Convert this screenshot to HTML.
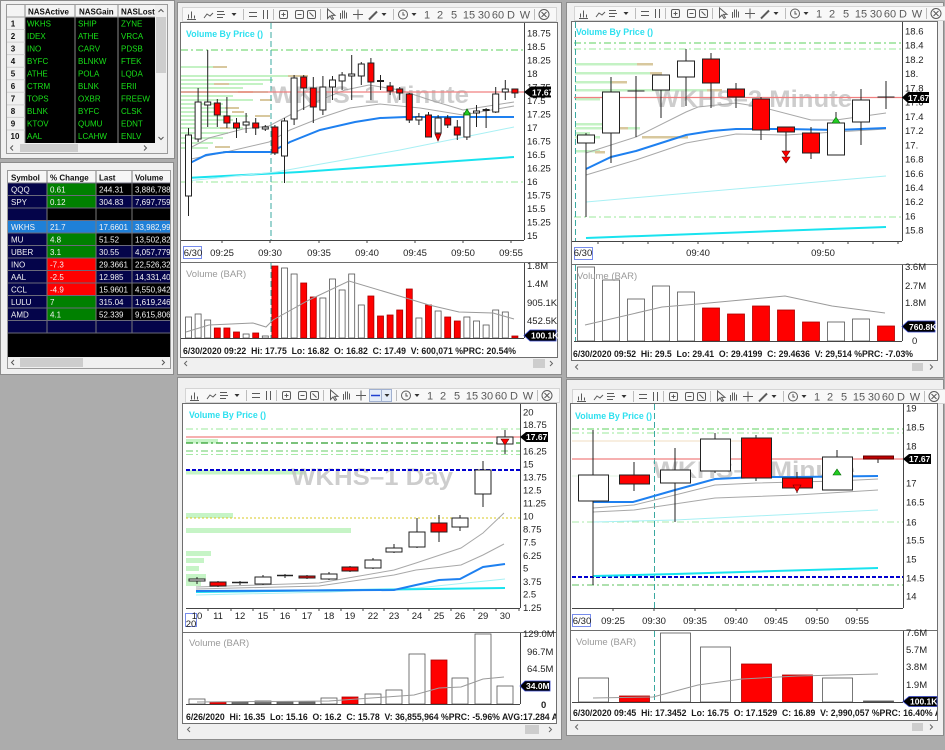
<!DOCTYPE html>
<html><head><meta charset="utf-8"><title>Charts</title>
<style>
html,body{margin:0;padding:0;background:#acacac;}
body{width:945px;height:750px;overflow:hidden;}
svg{display:block;}
text{font-family:"Liberation Sans",Arial,sans-serif;}
.tb text{font-size:11px;fill:#5a5a5a;text-anchor:middle;}
.ax{font-size:9.5px;fill:#222;}
.tm{font-size:9.5px;fill:#222;text-anchor:middle;}
.st{font-size:9.5px;font-weight:bold;fill:#1a1a1a;white-space:pre;}
.vbp{font-size:9px;font-weight:bold;fill:#2ee0ef;}
.vb{font-size:9.5px;fill:#9a9a9a;}
.wm{font-size:24px;font-weight:bold;fill:#bdbdbd;opacity:.75;}
.pb{font-size:8.5px;font-weight:bold;fill:#fff;}
.g{font-size:8px;fill:#18e018;}
.w{font-size:8px;fill:#f2f2f2;}
.h{font-size:8px;font-weight:bold;fill:#111;}
</style></head>
<body>
<svg width="945" height="750" viewBox="0 0 945 750" xmlns="http://www.w3.org/2000/svg">
<defs>
<clipPath id="cT1"><rect x="7" y="5" width="148" height="138"/></clipPath>
<clipPath id="cT2"><rect x="8" y="171" width="162" height="186"/></clipPath>
<clipPath id="cA"><rect x="181" y="23" width="343" height="217"/></clipPath>
<clipPath id="cB"><rect x="572" y="22" width="330" height="219"/></clipPath>
<clipPath id="cC"><rect x="183" y="404" width="337" height="204"/></clipPath>
<clipPath id="cD"><rect x="571" y="404" width="332" height="204"/></clipPath>
<clipPath id="cCs"><rect x="182" y="705" width="374" height="18"/></clipPath>
<clipPath id="cDs"><rect x="571" y="702" width="366" height="18"/></clipPath>
</defs>
<rect x="0" y="0" width="945" height="750" fill="#acacac"/>

<!-- ================= TABLE 1 ================= -->
<rect x="0.5" y="0.5" width="174" height="158" fill="#f0f0f0" stroke="#8c8c8c"/>
<rect x="6.5" y="4.5" width="161" height="149" fill="#f0f0f0" stroke="#9a9a9a"/>
<g clip-path="url(#cT1)">
<rect x="7" y="5" width="148" height="12" fill="#f4f4f4"/>
<rect x="25" y="17" width="130" height="126" fill="#000"/>
<path d="M25 5V143 M75 5V143 M118 5V143" stroke="#8a8a8a"/>
<path d="M7 17H155" stroke="#a0a0a0"/>
<path d="M7 29.55H25M7 42.1H25M7 54.65H25M7 67.2H25M7 79.75H25M7 92.3H25M7 104.85H25M7 117.4H25M7 129.95H25" stroke="#d0d0d0"/>
<text class="h" x="28" y="14.3">NASActive</text>
<text class="h" x="79" y="14.3">NASGain</text>
<text class="h" x="121" y="14.3">NASLost</text>
<g class="h" text-anchor="middle">
<text x="13" y="26.3">1</text><text x="13" y="38.8">2</text><text x="13" y="51.4">3</text><text x="13" y="63.9">4</text><text x="13" y="76.5">5</text><text x="13" y="89">6</text><text x="13" y="101.6">7</text><text x="13" y="114.1">8</text><text x="13" y="126.7">9</text><text x="15" y="139.2">10</text>
</g>
<g class="g">
<text x="27" y="26.3">WKHS</text><text x="78" y="26.3">SHIP</text><text x="121" y="26.3">ZYNE</text>
<text x="27" y="38.8">IDEX</text><text x="78" y="38.8">ATHE</text><text x="121" y="38.8">VRCA</text>
<text x="27" y="51.4">INO</text><text x="78" y="51.4">CARV</text><text x="121" y="51.4">PDSB</text>
<text x="27" y="63.9">BYFC</text><text x="78" y="63.9">BLNKW</text><text x="121" y="63.9">FTEK</text>
<text x="27" y="76.5">ATHE</text><text x="78" y="76.5">POLA</text><text x="121" y="76.5">LQDA</text>
<text x="27" y="89">CTRM</text><text x="78" y="89">BLNK</text><text x="121" y="89">ERII</text>
<text x="27" y="101.6">TOPS</text><text x="78" y="101.6">OXBR</text><text x="121" y="101.6">FREEW</text>
<text x="27" y="114.1">BLNK</text><text x="78" y="114.1">BYFC</text><text x="121" y="114.1">CLSK</text>
<text x="27" y="126.7">KTOV</text><text x="78" y="126.7">QUMU</text><text x="121" y="126.7">EDNT</text>
<text x="27" y="139.2">AAL</text><text x="78" y="139.2">LCAHW</text><text x="121" y="139.2">ENLV</text>
</g>
</g>
<rect x="155" y="5" width="12" height="138" fill="#f0f0f0"/>
<rect x="156" y="17" width="10" height="56" fill="#cdcdcd"/>
<path d="M158.5 12l2.5-2.5 2.5 2.5M158.5 137l2.5 2.5 2.5-2.5" stroke="#555" fill="none"/>
<rect x="7" y="143" width="160" height="10" fill="#f0f0f0"/>
<rect x="20" y="144" width="58" height="8" fill="#cdcdcd"/>
<path d="M13 145.5l-2.5 2.5 2.5 2.5M144 145.5l2.5 2.5-2.5 2.5" stroke="#555" fill="none"/>

<!-- ================= TABLE 2 ================= -->
<rect x="0.5" y="162.5" width="173" height="212" fill="#f0f0f0" stroke="#8c8c8c"/>
<rect x="7.5" y="170.5" width="163" height="198" fill="#f0f0f0" stroke="#9a9a9a"/>
<g clip-path="url(#cT2)">
<rect x="8" y="171" width="162" height="12" fill="#f6f6f6"/>
<rect x="8" y="183" width="162" height="174" fill="#000"/>
<!-- row fills -->
<g>
<rect x="8" y="183" width="39" height="12.5" fill="#04044a"/><rect x="47" y="183" width="49" height="12.5" fill="#008000"/>
<rect x="8" y="195.5" width="39" height="12.5" fill="#04044a"/><rect x="47" y="195.5" width="49" height="12.5" fill="#008000"/><rect x="96" y="195.5" width="74" height="12.5" fill="#04044a"/>
<rect x="8" y="208" width="39" height="12.5" fill="#04044a"/>
<rect x="8" y="220.5" width="162" height="12.5" fill="#1f80d8"/>
<rect x="8" y="233" width="39" height="12.5" fill="#04044a"/><rect x="47" y="233" width="49" height="12.5" fill="#008000"/>
<rect x="8" y="245.5" width="39" height="12.5" fill="#04044a"/><rect x="47" y="245.5" width="49" height="12.5" fill="#008000"/><rect x="96" y="245.5" width="74" height="12.5" fill="#04044a"/>
<rect x="8" y="258" width="39" height="12.5" fill="#04044a"/><rect x="47" y="258" width="49" height="12.5" fill="#ff0000"/>
<rect x="8" y="270.5" width="39" height="12.5" fill="#04044a"/><rect x="47" y="270.5" width="49" height="12.5" fill="#ff0000"/><rect x="96" y="270.5" width="74" height="12.5" fill="#04044a"/>
<rect x="8" y="283" width="39" height="12.5" fill="#04044a"/><rect x="47" y="283" width="49" height="12.5" fill="#ff0000"/>
<rect x="8" y="295.5" width="39" height="12.5" fill="#04044a"/><rect x="47" y="295.5" width="49" height="12.5" fill="#008000"/><rect x="96" y="295.5" width="74" height="12.5" fill="#04044a"/>
<rect x="8" y="308" width="39" height="12.5" fill="#04044a"/><rect x="47" y="308" width="49" height="12.5" fill="#008000"/>
<rect x="8" y="320.5" width="162" height="12.5" fill="#04044a"/>
</g>
<path d="M47 171V333M96 171V333M132 171V333" stroke="#7a7a7a"/>
<path d="M8 183H170M8 195.5H170M8 208H170M8 220.5H170M8 233H170M8 245.5H170M8 258H170M8 270.5H170M8 283H170M8 295.5H170M8 308H170M8 320.5H170M8 333H170" stroke="#6a6a7a"/>
<text class="h" x="11" y="180.5" font-size="8.5">Symbol</text>
<text class="h" x="50" y="180.5" font-size="8.5">% Change</text>
<text class="h" x="99" y="180.5" font-size="8.5">Last</text>
<text class="h" x="135" y="180.5" font-size="8.5">Volume</text>
<g class="w">
<text x="11" y="192.3">QQQ</text><text x="50" y="192.3">0.61</text><text x="99" y="192.3">244.31</text><text x="135" y="192.3">3,886,788</text>
<text x="11" y="204.8">SPY</text><text x="50" y="204.8">0.12</text><text x="99" y="204.8">304.83</text><text x="135" y="204.8">7,697,759</text>
<text x="11" y="229.8">WKHS</text><text x="50" y="229.8">21.7</text><text x="99" y="229.8">17.6601</text><text x="135" y="229.8">33,982,99</text>
<text x="11" y="242.3">MU</text><text x="50" y="242.3">4.8</text><text x="99" y="242.3">51.52</text><text x="135" y="242.3">13,502,82</text>
<text x="11" y="254.8">UBER</text><text x="50" y="254.8">3.1</text><text x="99" y="254.8">30.55</text><text x="135" y="254.8">4,057,779</text>
<text x="11" y="267.3">INO</text><text x="50" y="267.3">-7.3</text><text x="99" y="267.3">29.3661</text><text x="135" y="267.3">22,526,32</text>
<text x="11" y="279.8">AAL</text><text x="50" y="279.8">-2.5</text><text x="99" y="279.8">12.985</text><text x="135" y="279.8">14,331,40</text>
<text x="11" y="292.3">CCL</text><text x="50" y="292.3">-4.9</text><text x="99" y="292.3">15.9601</text><text x="135" y="292.3">4,550,942</text>
<text x="11" y="304.8">LULU</text><text x="50" y="304.8">7</text><text x="99" y="304.8">315.04</text><text x="135" y="304.8">1,619,246</text>
<text x="11" y="317.3">AMD</text><text x="50" y="317.3">4.1</text><text x="99" y="317.3">52.339</text><text x="135" y="317.3">9,615,806</text>
</g>
</g>
<rect x="8" y="357" width="162" height="11" fill="#f0f0f0"/>
<rect x="20" y="358" width="63" height="9" fill="#cdcdcd"/>
<path d="M14 360l-2.5 2.5 2.5 2.5M162 360l2.5 2.5-2.5 2.5" stroke="#555" fill="none"/>

<!-- ================= TOOLBAR (A base) ================= -->
<g id="tbA" class="tb">
<rect x="182.5" y="7.5" width="374" height="14" fill="#f8f8f8" stroke="#d4d4d4"/>
<g fill="none" stroke="#5a5a5a">
<path d="M187 19.5h9M188.5 18.5v-4M191.5 18.5v-7M194.5 18.5v-3"/>
<path d="M204 18l3-4 3 2 3-3"/>
<path d="M217 11.5h7M217 14.5h8M217 17.5h6"/>
<path d="M249 12.5h8M249 16.5h8"/>
<path d="M263.5 10v9M267.5 10v9"/>
<rect x="279.5" y="10.5" width="8" height="8" rx="1.5"/>
<rect x="295.5" y="10.5" width="8" height="8" rx="1.5"/>
<rect x="307.5" y="10.5" width="8" height="8" rx="1.5"/>
<path d="M281.5 14.5h4M283.5 12.5v4M297.5 14.5h4M309.5 12.5l4 4"/>
<path d="M327.5 9v9.5l2.5-2.5 2 3.5 1.5-.8-2-3.3h3.5z"/>
<path d="M340.5 19v-6M342.5 18.5v-8M344.5 18.5v-8M346.5 18.5v-6"/>
<path d="M353 14.5h10M358 9.5v10"/>
<path d="M369 19.5l8-8" stroke-width="2"/>
<circle cx="403" cy="14.5" r="4.5"/><path d="M403 12v3h2"/>
<circle cx="544" cy="14.5" r="5"/><path d="M541.5 12l5 5M546.5 12l-5 5"/>
</g>
<g fill="#333"><path d="M231.5 13h5l-2.5 3zM381.5 13h5l-2.5 3zM411.5 13h5l-2.5 3z"/></g>
<path d="M243.5 9v11M273.5 9v11M320.5 9v11M393.5 9v11M534.5 9v11" stroke="#bcbcbc"/>
<text x="427" y="18.5">1</text><text x="440" y="18.5">2</text><text x="454" y="18.5">5</text><text x="469" y="18.5">15</text><text x="484" y="18.5">30</text><text x="498" y="18.5">60</text><text x="511" y="18.5">D</text><text x="525" y="18.5">W</text>
</g>

<!-- ================= WINDOW A (1 Minute) ================= -->
<rect x="177.5" y="2.5" width="384" height="372" fill="#f0f0f0" stroke="#8c8c8c"/>
<g class="tb">
<rect x="182.5" y="7.5" width="374" height="14" fill="#f8f8f8" stroke="#d4d4d4"/>
<g fill="none" stroke="#5a5a5a">
<path d="M187 19.5h9M188.5 18.5v-4M191.5 18.5v-7M194.5 18.5v-3"/>
<path d="M204 18l3-4 3 2 3-3"/>
<path d="M217 11.5h7M217 14.5h8M217 17.5h6"/>
<path d="M249 12.5h8M249 16.5h8"/>
<path d="M263.5 10v9M267.5 10v9"/>
<rect x="279.5" y="10.5" width="8" height="8" rx="1.5"/>
<rect x="295.5" y="10.5" width="8" height="8" rx="1.5"/>
<rect x="307.5" y="10.5" width="8" height="8" rx="1.5"/>
<path d="M281.5 14.5h4M283.5 12.5v4M297.5 14.5h4M309.5 12.5l4 4"/>
<path d="M327.5 9v9.5l2.5-2.5 2 3.5 1.5-.8-2-3.3h3.5z"/>
<path d="M340.5 19v-6M342.5 18.5v-8M344.5 18.5v-8M346.5 18.5v-6"/>
<path d="M353 14.5h10M358 9.5v10"/>
<path d="M369 19.5l8-8" stroke-width="2"/>
<circle cx="403" cy="14.5" r="4.5"/><path d="M403 12v3h2"/>
<circle cx="544" cy="14.5" r="5"/><path d="M541.5 12l5 5M546.5 12l-5 5"/>
</g>
<g fill="#333"><path d="M231.5 13h5l-2.5 3zM381.5 13h5l-2.5 3zM411.5 13h5l-2.5 3z"/></g>
<path d="M243.5 9v11M273.5 9v11M320.5 9v11M393.5 9v11M534.5 9v11" stroke="#bcbcbc"/>
<text x="427" y="18.5">1</text><text x="440" y="18.5">2</text><text x="454" y="18.5">5</text><text x="469" y="18.5">15</text><text x="484" y="18.5">30</text><text x="498" y="18.5">60</text><text x="511" y="18.5">D</text><text x="525" y="18.5">W</text>
</g>
<rect x="180.5" y="22.5" width="377" height="335" fill="#fff" stroke="#6e6e6e"/>
<g clip-path="url(#cA)">
<g fill="#c4f2c4">
<rect x="181" y="66" width="32" height="2"/><rect x="181" y="75" width="107" height="2"/><rect x="181" y="79" width="92" height="2"/><rect x="181" y="83" width="82" height="2"/><rect x="181" y="87" width="62" height="2"/><rect x="181" y="91" width="87" height="2"/><rect x="181" y="95" width="52" height="2"/><rect x="181" y="99" width="72" height="2"/><rect x="181" y="103" width="42" height="2"/><rect x="181" y="107" width="57" height="2"/><rect x="181" y="111" width="47" height="2"/><rect x="181" y="115" width="67" height="2"/><rect x="181" y="119" width="52" height="2"/><rect x="181" y="123" width="37" height="2"/><rect x="181" y="127" width="62" height="2"/><rect x="181" y="132" width="47" height="2"/><rect x="181" y="137" width="42" height="2"/><rect x="181" y="142" width="32" height="2"/><rect x="181" y="147" width="27" height="2"/>
</g>
<g fill="#d8c89e">
<rect x="213" y="66" width="14" height="2"/><rect x="288" y="75" width="20" height="2"/><rect x="214" y="83" width="15" height="2"/><rect x="238" y="91" width="15" height="2"/><rect x="260" y="99" width="12" height="2"/><rect x="225" y="107" width="14" height="2"/><rect x="232" y="111" width="12" height="2"/><rect x="255" y="115" width="15" height="2"/><rect x="220" y="127" width="10" height="2"/><rect x="215" y="146" width="15" height="2"/><rect x="223" y="151" width="53" height="2"/>
</g>
<text class="wm" x="271" y="103" textLength="198" lengthAdjust="spacingAndGlyphs">WKHS–1 Minute</text>
<path d="M181 50H524" stroke="#5cd25c" stroke-dasharray="7 3 2 3"/>
<path d="M181 182H524" stroke="#9be89b" stroke-dasharray="7 3 2 3"/>
<path d="M271 23V240" stroke="#3aa8a0" stroke-dasharray="6 3"/>
<polyline points="186,178 300,172 400,165 514,157" fill="none" stroke="#19e3ef" stroke-width="2"/>
<polyline points="186,181 276,172 400,150 514,127" fill="none" stroke="#a8f0f4"/>
<polyline points="186,150 209,138 243,129 269,126 290,115 320,100 345,90 369,85 400,90 430,100 463,110 514,102" fill="none" stroke="#a8a8a8"/>
<polyline points="186,160 226,152 269,142 290,130 320,118 350,108 380,104 420,108 463,115 514,106" fill="none" stroke="#a8a8a8"/>
<polyline points="186,165 206,155 226,152 271,152 290,142 320,130 355,122 380,118 406,117 514,117" fill="none" stroke="#1e80f0" stroke-width="2"/>
<path d="M181 92H524" stroke="#f08080" stroke-width="1.2"/>
<g stroke="#222" stroke-width="1">
<path d="M188.5 128V216M198.1 88V142M207.7 50V127M217.3 99V127M226.9 97V128M236.5 118V138M246.1 113V133M255.7 118V135M265.3 125V131M274.9 125V155M284.5 118V183M294.1 75V125M303.7 75V110M313.3 77V123M322.9 76V115M332.5 76V100M342.1 72V90M351.7 55V100M361.3 62V85M370.9 58V100M380.5 75V90M390.1 82V95M399.7 87V100M409.3 93V123M418.9 113V125M428.5 112V137M438.1 115V135M447.7 115V128M457.3 120V140M466.9 110V140M476.5 105V127M486.1 108V128M495.7 87V113M505.3 80V100M514.9 89V98"/>
<g fill="#fff">
<rect x="185.5" y="135" width="6" height="61"/><rect x="195.1" y="102" width="6" height="37"/><rect x="204.7" y="102" width="6" height="3"/><rect x="243.1" y="122" width="6" height="3"/><rect x="262.3" y="127" width="6" height="2"/><rect x="281.5" y="121" width="6" height="35"/><rect x="291.1" y="78" width="6" height="41"/><rect x="319.9" y="87" width="6" height="23"/><rect x="329.5" y="80" width="6" height="7"/><rect x="339.1" y="75" width="6" height="6"/><rect x="348.7" y="74" width="6" height="2"/><rect x="358.3" y="64" width="6" height="12"/><rect x="377.5" y="80.5" width="6" height="1"/><rect x="415.9" y="117" width="6" height="3"/><rect x="435.1" y="118" width="6" height="15"/><rect x="463.9" y="113" width="6" height="24"/><rect x="473.5" y="111" width="6" height="2"/><rect x="483.1" y="109.5" width="6" height="1"/><rect x="492.7" y="94" width="6" height="18"/><rect x="502.3" y="89" width="6" height="3"/>
</g>
<g fill="#f00">
<rect x="214.3" y="103" width="6" height="12"/><rect x="223.9" y="116" width="6" height="7"/><rect x="233.5" y="123" width="6" height="5"/><rect x="252.7" y="123" width="6" height="5"/><rect x="271.9" y="127" width="6" height="26"/><rect x="300.7" y="77" width="6" height="11"/><rect x="310.3" y="88" width="6" height="19"/><rect x="367.9" y="63" width="6" height="19"/><rect x="387.1" y="86" width="6" height="5"/><rect x="396.7" y="89" width="6" height="4"/><rect x="406.3" y="94" width="6" height="26"/><rect x="425.5" y="115" width="6" height="22"/><rect x="444.7" y="118" width="6" height="7"/><rect x="454.3" y="127" width="6" height="8"/><rect x="511.9" y="89" width="6" height="4"/>
</g>
</g>
<polygon points="435,134 441,134 438,141" fill="#f00" stroke="#600" stroke-width=".7"/>
<polygon points="463.5,115 470.5,115 467,109" fill="#22cc22" stroke="#060" stroke-width=".7"/>
</g>
<text class="vbp" x="186" y="37" textLength="77" lengthAdjust="spacingAndGlyphs">Volume By Price ()</text>
<!-- A axes -->
<path d="M524.5 23V240M181 240.5H524" stroke="#444"/>
<path d="M222 240v3M270 240v3M319 240v3M367 240v3M415 240v3M463 240v3M511 240v3" stroke="#444"/>
<g class="ax">
<text x="527" y="36.5">18.75</text><text x="527" y="50">18.5</text><text x="527" y="63.5">18.25</text><text x="527" y="77">18</text><text x="527" y="90.5">17.75</text><text x="527" y="104">17.5</text><text x="527" y="117.5">17.25</text><text x="527" y="131">17</text><text x="527" y="144.5">16.75</text><text x="527" y="158">16.5</text><text x="527" y="171.5">16.25</text><text x="527" y="185">16</text><text x="527" y="198.5">15.75</text><text x="527" y="212">15.5</text><text x="527" y="225.5">15.25</text><text x="527" y="239">15</text>
</g>
<polygon points="524,92 531,86.5 551,86.5 551,97.5 531,97.5" fill="#000"/>
<text class="pb" x="532" y="95.3">17.67</text>
<rect x="183.5" y="246.5" width="18" height="12" fill="none" stroke="#5570e8" stroke-width=".8"/>
<text class="tm" x="193" y="256">6/30</text><text class="tm" x="222" y="256">09:25</text><text class="tm" x="270" y="256">09:30</text><text class="tm" x="319" y="256">09:35</text><text class="tm" x="367" y="256">09:40</text><text class="tm" x="415" y="256">09:45</text><text class="tm" x="463" y="256">09:50</text><text class="tm" x="511" y="256">09:55</text>
<path d="M181 262.5H557" stroke="#6e6e6e"/>
<!-- A volume -->
<path d="M271 263V338" stroke="#3aa8a0" stroke-dasharray="6 3"/>
<text class="vb" x="186" y="277">Volume (BAR)</text>
<g stroke="#555" stroke-width=".8">
<g fill="#fff">
<rect x="185.5" y="317" width="6" height="21"/><rect x="195.1" y="314" width="6" height="24"/><rect x="204.7" y="320" width="6" height="18"/><rect x="243.1" y="334" width="6" height="4"/><rect x="262.3" y="336" width="6" height="2"/><rect x="281.5" y="268" width="6" height="70"/><rect x="291.1" y="274" width="6" height="64"/><rect x="319.9" y="298" width="6" height="40"/><rect x="329.5" y="279" width="6" height="59"/><rect x="339.1" y="290" width="6" height="48"/><rect x="348.7" y="274" width="6" height="64"/><rect x="358.3" y="305" width="6" height="33"/><rect x="415.9" y="318" width="6" height="20"/><rect x="435.1" y="311" width="6" height="27"/><rect x="463.9" y="317" width="6" height="21"/><rect x="473.5" y="321" width="6" height="17"/><rect x="483.1" y="325" width="6" height="13"/><rect x="492.7" y="310" width="6" height="28"/><rect x="502.3" y="312" width="6" height="26"/>
</g>
<g fill="#f00" stroke="#a00">
<rect x="214.3" y="328" width="6" height="10"/><rect x="223.9" y="328" width="6" height="10"/><rect x="233.5" y="332" width="6" height="6"/><rect x="252.7" y="333" width="6" height="5"/><rect x="271.9" y="266" width="6" height="72"/><rect x="300.7" y="283" width="6" height="55"/><rect x="310.3" y="297" width="6" height="41"/><rect x="367.9" y="296" width="6" height="42"/><rect x="377.5" y="316" width="6" height="22"/><rect x="387.1" y="315" width="6" height="23"/><rect x="396.7" y="310" width="6" height="28"/><rect x="406.3" y="289" width="6" height="49"/><rect x="425.5" y="305" width="6" height="33"/><rect x="444.7" y="317" width="6" height="21"/><rect x="454.3" y="321" width="6" height="17"/><rect x="511.9" y="336" width="6" height="2"/>
</g>
</g>
<polyline points="186,332 209,325 253,323 266,327 273,320 309,300 349,281 406,298 429,305 459,312 493,313 514,319" fill="none" stroke="#9a9a9a"/>
<path d="M524.5 263V338M181 338.5H524" stroke="#444"/>
<g class="ax"><text x="527" y="269">1.8M</text><text x="527" y="287">1.4M</text><text x="527" y="306">905.1K</text><text x="527" y="324">452.5K</text></g>
<polygon points="524,335.5 530,330 556,330 556,341 530,341" fill="#000" stroke="#3344cc" stroke-width=".8"/>
<text class="pb" x="531" y="338.6">100.1K</text>
<text class="st" x="183" y="354" textLength="333" lengthAdjust="spacingAndGlyphs">6/30/2020 09:22  Hi: 17.75  Lo: 16.82  O: 16.82  C: 17.49  V: 600,071 %PRC: 20.54%</text>
<rect x="181" y="358" width="376" height="11" fill="#f0f0f0"/>
<rect x="533" y="359" width="12" height="9" fill="#cdcdcd"/>
<path d="M187 361l-2.5 2.5 2.5 2.5M550 361l2.5 2.5-2.5 2.5" stroke="#666" fill="none"/>

<!-- ================= WINDOW B (2 Minute) ================= -->
<rect x="566.5" y="2.5" width="377" height="375" fill="#f0f0f0" stroke="#8c8c8c"/>
<g class="tb" transform="translate(392,-1)">
<rect x="182.5" y="7.5" width="374" height="14" fill="#f8f8f8" stroke="#d4d4d4"/>
<g fill="none" stroke="#5a5a5a">
<path d="M187 19.5h9M188.5 18.5v-4M191.5 18.5v-7M194.5 18.5v-3"/>
<path d="M204 18l3-4 3 2 3-3"/>
<path d="M217 11.5h7M217 14.5h8M217 17.5h6"/>
<path d="M249 12.5h8M249 16.5h8"/>
<path d="M263.5 10v9M267.5 10v9"/>
<rect x="279.5" y="10.5" width="8" height="8" rx="1.5"/>
<rect x="295.5" y="10.5" width="8" height="8" rx="1.5"/>
<rect x="307.5" y="10.5" width="8" height="8" rx="1.5"/>
<path d="M281.5 14.5h4M283.5 12.5v4M297.5 14.5h4M309.5 12.5l4 4"/>
<path d="M327.5 9v9.5l2.5-2.5 2 3.5 1.5-.8-2-3.3h3.5z"/>
<path d="M340.5 19v-6M342.5 18.5v-8M344.5 18.5v-8M346.5 18.5v-6"/>
<path d="M353 14.5h10M358 9.5v10"/>
<path d="M369 19.5l8-8" stroke-width="2"/>
<circle cx="403" cy="14.5" r="4.5"/><path d="M403 12v3h2"/>
<circle cx="544" cy="14.5" r="5"/><path d="M541.5 12l5 5M546.5 12l-5 5"/>
</g>
<g fill="#333"><path d="M231.5 13h5l-2.5 3zM381.5 13h5l-2.5 3zM411.5 13h5l-2.5 3z"/></g>
<path d="M243.5 9v11M273.5 9v11M320.5 9v11M393.5 9v11M534.5 9v11" stroke="#bcbcbc"/>
<text x="427" y="18.5">1</text><text x="440" y="18.5">2</text><text x="454" y="18.5">5</text><text x="469" y="18.5">15</text><text x="484" y="18.5">30</text><text x="498" y="18.5">60</text><text x="511" y="18.5">D</text><text x="525" y="18.5">W</text>
</g>
<rect x="571.5" y="21.5" width="366" height="339" fill="#fff" stroke="#6e6e6e"/>
<g clip-path="url(#cB)">
<g fill="#c4f2c4">
<rect x="575" y="63" width="68" height="2.5"/><rect x="575" y="72" width="85" height="2.5"/><rect x="575" y="81" width="50" height="2.5"/><rect x="575" y="89" width="143" height="2.5"/><rect x="575" y="98" width="25" height="2.5"/><rect x="575" y="123" width="35" height="2.5"/><rect x="575" y="127" width="65" height="2.5"/><rect x="575" y="132" width="15" height="2.5"/><rect x="575" y="136" width="25" height="2.5"/><rect x="575" y="150" width="25" height="2.5"/>
</g>
<g fill="#d8c89e">
<rect x="637" y="63" width="16" height="2.5"/><rect x="650" y="72" width="12" height="2.5"/><rect x="612" y="81" width="15" height="2.5"/><rect x="707" y="89" width="15" height="2.5"/><rect x="620" y="127" width="8" height="2.5"/><rect x="642" y="136" width="46" height="2.5"/><rect x="595" y="151" width="10" height="2.5"/>
</g>
<text class="wm" x="655" y="107" textLength="197" lengthAdjust="spacingAndGlyphs">WKHS–2 Minute</text>
<path d="M574 43H902" stroke="#5cd25c" stroke-dasharray="7 3 2 3"/>
<path d="M574 49H902" stroke="#9be89b" stroke-dasharray="7 3 2 3"/>
<path d="M574 217H902" stroke="#9be89b" stroke-dasharray="7 3 2 3"/>
<path d="M575.5 22V241" stroke="#3aa8a0" stroke-dasharray="6 3"/>
<polyline points="586,202 886,176" fill="none" stroke="#a8f0f4"/>
<polyline points="586,238 886,227" fill="none" stroke="#19e3ef" stroke-width="2"/>
<polyline points="586,153 636,137 686,112 698,107 736,103 761,107 811,120 836,120 886,113" fill="none" stroke="#a8a8a8"/>
<polyline points="586,175 636,160 686,143 736,134 786,135 836,132 886,129" fill="none" stroke="#a8a8a8"/>
<polyline points="586,169 611,157 636,151 686,135 711,131 736,129 786,129 836,130 886,128" fill="none" stroke="#1e80f0" stroke-width="2"/>
<path d="M574 97.5H902" stroke="#f08080" stroke-width="1.2"/>
<g stroke="#222">
<path d="M586 133V217M611 77V163M636 76V137M661 75V118M686 49V106M711 53V108M736 83V108M761 97V140M786 127V157M811 127V159M836 112V155M861 89V145M886 81V109"/>
<path d="M627.5 91H644.5M877.5 97H894.5"/>
<g fill="#fff">
<rect x="577.5" y="135" width="17" height="8"/><rect x="602.5" y="92" width="17" height="41"/><rect x="652.5" y="75" width="17" height="15"/><rect x="677.5" y="61" width="17" height="16"/><rect x="827.5" y="123" width="17" height="32"/><rect x="852.5" y="100" width="17" height="22"/>
</g>
<g fill="#f00">
<rect x="702.5" y="59" width="17" height="24"/><rect x="727.5" y="89" width="17" height="8"/><rect x="752.5" y="99" width="17" height="31"/><rect x="777.5" y="127" width="17" height="5"/><rect x="802.5" y="133" width="17" height="20"/>
</g>
</g>
<polygon points="782,151 790,151 786,157" fill="#f00" stroke="#600" stroke-width=".6"/>
<polygon points="782,157 790,157 786,163" fill="#f00" stroke="#600" stroke-width=".6"/>
<polygon points="832,123 840,123 836,117" fill="#22cc22" stroke="#060" stroke-width=".6"/>
</g>
<text class="vbp" x="576" y="35" textLength="77" lengthAdjust="spacingAndGlyphs">Volume By Price ()</text>
<path d="M902.5 22V241M572 241.5H902" stroke="#444"/>
<path d="M598 241v3M623 241v3M648 241v3M673 241v3M698 241v3M723 241v3M748 241v3M773 241v3M798 241v3M823 241v3M848 241v3M873 241v3M898 241v3" stroke="#444"/>
<g class="ax">
<text x="905" y="34.5">18.6</text><text x="905" y="48.7">18.4</text><text x="905" y="63">18.2</text><text x="905" y="77.2">18.</text><text x="905" y="91.4">17.8</text><text x="905" y="105.6">17.6</text><text x="905" y="119.9">17.4</text><text x="905" y="134.1">17.2</text><text x="905" y="148.3">17.</text><text x="905" y="162.5">16.8</text><text x="905" y="176.8">16.6</text><text x="905" y="191">16.4</text><text x="905" y="205.2">16.2</text><text x="905" y="219.4">16</text><text x="905" y="233.7">15.8</text>
</g>
<polygon points="902,97.5 908,92 929,92 929,103 908,103" fill="#000"/>
<text class="pb" x="908" y="100.8">17.67</text>
<rect x="574.5" y="247.5" width="18" height="12" fill="none" stroke="#5570e8" stroke-width=".8"/>
<text class="tm" x="583" y="256">6/30</text><text class="tm" x="698" y="256">09:40</text><text class="tm" x="823" y="256">09:50</text>
<path d="M572 264.5H938" stroke="#6e6e6e"/>
<path d="M575.5 265V341" stroke="#3aa8a0" stroke-dasharray="6 3"/>
<g stroke="#555" stroke-width=".8">
<g fill="#fff">
<rect x="577.5" y="267" width="17" height="74"/><rect x="602.5" y="280" width="17" height="61"/><rect x="627.5" y="299" width="17" height="42"/><rect x="652.5" y="286" width="17" height="55"/><rect x="677.5" y="292" width="17" height="49"/><rect x="827.5" y="322" width="17" height="19"/><rect x="852.5" y="319" width="17" height="22"/>
</g>
<g fill="#f00" stroke="#a00">
<rect x="702.5" y="308" width="17" height="33"/><rect x="727.5" y="314" width="17" height="27"/><rect x="752.5" y="306" width="17" height="35"/><rect x="777.5" y="310" width="17" height="31"/><rect x="802.5" y="322" width="17" height="19"/><rect x="877.5" y="326" width="17" height="15"/>
</g>
</g>
<text class="vb" x="577" y="279">Volume (BAR)</text>
<polyline points="585,325 662,307 698,304 785,296 832,306 885,313" fill="none" stroke="#9a9a9a"/>
<path d="M902.5 265V341M574 341.5H902" stroke="#444"/>
<g class="ax"><text x="905" y="270">3.6M</text><text x="905" y="289">2.7M</text><text x="905" y="306">1.8M</text><text x="912" y="344">0</text></g>
<polygon points="902,326.5 908,321 935,321 935,332 908,332" fill="#000" stroke="#3344cc" stroke-width=".8"/>
<text class="pb" x="909" y="329.8">760.8K</text>
<text class="st" x="573" y="357" textLength="340" lengthAdjust="spacingAndGlyphs">6/30/2020 09:52  Hi: 29.5  Lo: 29.41  O: 29.4199  C: 29.4636  V: 29,514 %PRC: -7.03%</text>
<rect x="572" y="362" width="366" height="10" fill="#f0f0f0"/>
<rect x="912" y="363" width="11" height="8" fill="#cdcdcd"/>
<path d="M578 364.5l-2.5 2.5 2.5 2.5M930 364.5l2.5 2.5-2.5 2.5" stroke="#666" fill="none"/>

<!-- ================= WINDOW C (1 Day) ================= -->
<rect x="177.5" y="377.5" width="384" height="362" fill="#f0f0f0" stroke="#8c8c8c"/>
<g class="tb" transform="translate(3,381)">
<rect x="182.5" y="7.5" width="374" height="14" fill="#f8f8f8" stroke="#d4d4d4"/>
<g fill="none" stroke="#5a5a5a">
<path d="M187 19.5h9M188.5 18.5v-4M191.5 18.5v-7M194.5 18.5v-3"/>
<path d="M204 18l3-4 3 2 3-3"/>
<path d="M217 11.5h7M217 14.5h8M217 17.5h6"/>
<path d="M249 12.5h8M249 16.5h8"/>
<path d="M263.5 10v9M267.5 10v9"/>
<rect x="279.5" y="10.5" width="8" height="8" rx="1.5"/>
<rect x="295.5" y="10.5" width="8" height="8" rx="1.5"/>
<rect x="307.5" y="10.5" width="8" height="8" rx="1.5"/>
<path d="M281.5 14.5h4M283.5 12.5v4M297.5 14.5h4M309.5 12.5l4 4"/>
<path d="M327.5 9v9.5l2.5-2.5 2 3.5 1.5-.8-2-3.3h3.5z"/>
<path d="M340.5 19v-6M342.5 18.5v-8M344.5 18.5v-8M346.5 18.5v-6"/>
<path d="M353 14.5h10M358 9.5v10"/>
<circle cx="403" cy="14.5" r="4.5"/><path d="M403 12v3h2"/>
<circle cx="544" cy="14.5" r="5"/><path d="M541.5 12l5 5M546.5 12l-5 5"/>
</g>
<rect x="366.5" y="8.5" width="12" height="12" fill="#e4ecf8" stroke="#a0b0d0"/>
<path d="M368 14.5h9" stroke="#2040d0" stroke-width="1.5"/>
<rect x="378.5" y="8.5" width="10" height="12" fill="#e4ecf8" stroke="#a0b0d0"/>
<g fill="#333"><path d="M231.5 13h5l-2.5 3zM381.5 13h5l-2.5 3zM411.5 13h5l-2.5 3z"/></g>
<path d="M243.5 9v11M273.5 9v11M320.5 9v11M393.5 9v11M534.5 9v11" stroke="#bcbcbc"/>
<text x="427" y="18.5">1</text><text x="440" y="18.5">2</text><text x="454" y="18.5">5</text><text x="469" y="18.5">15</text><text x="484" y="18.5">30</text><text x="498" y="18.5">60</text><text x="511" y="18.5">D</text><text x="525" y="18.5">W</text>
</g>
<rect x="182.5" y="403.5" width="374" height="320" fill="#fff" stroke="#6e6e6e"/>
<g clip-path="url(#cC)">
<g fill="#c6f4c6">
<rect x="186" y="439" width="32" height="4.5"/><rect x="186" y="470" width="120" height="4.5"/><rect x="186" y="513" width="47" height="5"/><rect x="186" y="528" width="165" height="5"/><rect x="186" y="551" width="25" height="5"/><rect x="186" y="558" width="18" height="5"/><rect x="186" y="566" width="13" height="5"/><rect x="186" y="574" width="20" height="5"/><rect x="186" y="579" width="15" height="7"/>
</g>
<text class="wm" x="291" y="485" font-size="26" textLength="162" lengthAdjust="spacingAndGlyphs">WKHS–1 Day</text>
<path d="M186 429H520" stroke="#9be89b" stroke-dasharray="7 3 2 3"/>
<path d="M186 443H520" stroke="#2c9e2c" stroke-width="1.2" stroke-dasharray="7 3 2 3"/>
<path d="M186 451H520" stroke="#66cc66" stroke-dasharray="7 3 2 3"/>
<path d="M186 454.5H520" stroke="#a8eaa8" stroke-dasharray="7 3 2 3"/>
<path d="M186 470H520" stroke="#0000d0" stroke-width="2" stroke-dasharray="4 2"/>
<path d="M186 518H520" stroke="#d8c820" stroke-dasharray="2 2"/>
<polyline points="196,595 330,592 417,588 505,579" fill="none" stroke="#a8f0f4"/>
<polyline points="196,592 505,588" fill="none" stroke="#19e3ef" stroke-width="2"/>
<polyline points="196,587 319,583 394,570 416,563 461,548 483,533 504,513" fill="none" stroke="#a8a8a8"/>
<polyline points="196,589 319,586 394,575 416,570 461,565 483,555 504,544" fill="none" stroke="#a8a8a8"/>
<polyline points="196,591 394,590 416,585 439,580 460,579 483,567 505,564" fill="none" stroke="#1e80f0" stroke-width="2"/>
<path d="M186 437H520" stroke="#f08080" stroke-width="1.2"/>
<g stroke="#222">
<path d="M197 577V584M218 581V587M240 581V585M263 575V585M285 574V578M307 575V579M329 572V580M350 566V572M373 558V569M394 544V553M417 518V548M439 515V542M460 515V531M483 461V507M505 430V454"/>
<path d="M232 582.5H248M277 575.5H293" stroke-width="1.5"/>
<g fill="#fff">
<rect x="189" y="579" width="16" height="2"/><rect x="255" y="577" width="16" height="7"/><rect x="321" y="574" width="16" height="5"/><rect x="365" y="560" width="16" height="8"/><rect x="386" y="548" width="16" height="4"/><rect x="409" y="532" width="16" height="15"/><rect x="452" y="518" width="16" height="9"/><rect x="475" y="470" width="16" height="24"/><rect x="497" y="437" width="16" height="7"/>
</g>
<g fill="#f00">
<rect x="210" y="582" width="16" height="4"/><rect x="299" y="576" width="16" height="2"/><rect x="342" y="567" width="16" height="4"/><rect x="431" y="523" width="16" height="9"/>
</g>
</g>
<polygon points="501,439 509,439 505,445" fill="#f00" stroke="#600" stroke-width=".6"/>
</g>
<text class="vbp" x="189" y="418" textLength="77" lengthAdjust="spacingAndGlyphs">Volume By Price ()</text>
<path d="M520.5 404V608M186 608.5H520" stroke="#444"/>
<path d="M208 608v3M231 608v3M253 608v3M274 608v3M296 608v3M319 608v3M341 608v3M363 608v3M384 608v3M408 608v3M429 608v3M451 608v3M474 608v3M496 608v3M519 608v3" stroke="#444"/>
<g class="ax">
<text x="523" y="415.5">20</text><text x="523" y="428">18.75</text><text x="523" y="454.5">16.25</text><text x="523" y="467.5">15</text><text x="523" y="480.5">13.75</text><text x="523" y="493.5">12.5</text><text x="523" y="506.5">11.25</text><text x="523" y="519.5">10</text><text x="523" y="532.5">8.75</text><text x="523" y="545.5">7.5</text><text x="523" y="559">6.25</text><text x="523" y="571.5">5</text><text x="523" y="585">3.75</text><text x="523" y="597.5">2.5</text><text x="523" y="611">1.25</text>
</g>
<polygon points="520,437 526,432 548,432 548,442 526,442" fill="#000"/>
<text class="pb" x="526" y="440.2">17.67</text>
<rect x="185.5" y="613.5" width="11" height="13" fill="none" stroke="#5570e8" stroke-width=".8"/>
<g class="tm" font-size="9">
<text x="197" y="619">10</text><text x="218" y="619">11</text><text x="240" y="619">12</text><text x="263" y="619">15</text><text x="285" y="619">16</text><text x="307" y="619">17</text><text x="329" y="619">18</text><text x="350" y="619">19</text><text x="373" y="619">22</text><text x="394" y="619">23</text><text x="417" y="619">24</text><text x="439" y="619">25</text><text x="460" y="619">26</text><text x="483" y="619">29</text><text x="505" y="619">30</text>
<text x="191" y="627">20</text>
</g>
<path d="M183 632.5H557" stroke="#6e6e6e"/>
<text class="vb" x="189" y="646">Volume (BAR)</text>
<g stroke="#555" stroke-width=".8">
<g fill="#fff">
<rect x="189" y="699" width="16" height="5"/><rect x="321" y="698" width="16" height="6"/><rect x="365" y="694" width="16" height="10"/><rect x="386" y="690" width="16" height="14"/><rect x="409" y="654" width="16" height="50"/><rect x="452" y="678" width="16" height="26"/><rect x="475" y="634" width="16" height="70"/><rect x="497" y="686" width="16" height="18"/>
</g>
<g fill="#777">
<rect x="232" y="702" width="16" height="2"/><rect x="255" y="701" width="16" height="3"/><rect x="277" y="702" width="16" height="2"/><rect x="299" y="702" width="16" height="2"/>
</g>
<g fill="#f00" stroke="#a00">
<rect x="210" y="702" width="16" height="2"/><rect x="342" y="697" width="16" height="7"/><rect x="431" y="660" width="16" height="44"/>
</g>
</g>
<polyline points="197,702 329,701 414,695 439,688 461,687 483,679 504,677" fill="none" stroke="#9a9a9a"/>
<path d="M520.5 633V704M186 704.5H520" stroke="#444"/>
<g class="ax"><text x="523" y="637">129.0M</text><text x="527" y="655">96.7M</text><text x="527" y="672">64.5M</text><text x="541" y="708" font-weight="bold">0</text></g>
<polygon points="520,686 525,681 550,681 550,691 525,691" fill="#000" stroke="#3344cc" stroke-width=".8"/>
<text class="pb" x="526" y="689.2">34.0M</text>
<g clip-path="url(#cCs)">
<text class="st" x="186" y="720" textLength="372" lengthAdjust="spacingAndGlyphs">6/26/2020  Hi: 16.35  Lo: 15.16  O: 16.2  C: 15.78  V: 36,855,964 %PRC: -5.96% AVG:17.284 A</text>
</g>
<rect x="183" y="724" width="374" height="11" fill="#f0f0f0"/>
<rect x="525" y="725" width="14" height="9" fill="#cdcdcd"/>
<path d="M190 727l-2.5 2.5 2.5 2.5M549 727l2.5 2.5-2.5 2.5" stroke="#666" fill="none"/>

<!-- ================= WINDOW D (5 Minute) ================= -->
<rect x="566.5" y="379.5" width="377" height="356" fill="#f0f0f0" stroke="#8c8c8c"/>
<g class="tb" transform="translate(390,382)">
<rect x="182.5" y="7.5" width="374" height="14" fill="#f8f8f8" stroke="#d4d4d4"/>
<g fill="none" stroke="#5a5a5a">
<path d="M187 19.5h9M188.5 18.5v-4M191.5 18.5v-7M194.5 18.5v-3"/>
<path d="M204 18l3-4 3 2 3-3"/>
<path d="M217 11.5h7M217 14.5h8M217 17.5h6"/>
<path d="M249 12.5h8M249 16.5h8"/>
<path d="M263.5 10v9M267.5 10v9"/>
<rect x="279.5" y="10.5" width="8" height="8" rx="1.5"/>
<rect x="295.5" y="10.5" width="8" height="8" rx="1.5"/>
<rect x="307.5" y="10.5" width="8" height="8" rx="1.5"/>
<path d="M281.5 14.5h4M283.5 12.5v4M297.5 14.5h4M309.5 12.5l4 4"/>
<path d="M327.5 9v9.5l2.5-2.5 2 3.5 1.5-.8-2-3.3h3.5z"/>
<path d="M340.5 19v-6M342.5 18.5v-8M344.5 18.5v-8M346.5 18.5v-6"/>
<path d="M353 14.5h10M358 9.5v10"/>
<path d="M369 19.5l8-8" stroke-width="2"/>
<circle cx="403" cy="14.5" r="4.5"/><path d="M403 12v3h2"/>
<circle cx="544" cy="14.5" r="5"/><path d="M541.5 12l5 5M546.5 12l-5 5"/>
</g>
<g fill="#333"><path d="M231.5 13h5l-2.5 3zM381.5 13h5l-2.5 3zM411.5 13h5l-2.5 3z"/></g>
<path d="M243.5 9v11M273.5 9v11M320.5 9v11M393.5 9v11M534.5 9v11" stroke="#bcbcbc"/>
<text x="427" y="18.5">1</text><text x="440" y="18.5">2</text><text x="454" y="18.5">5</text><text x="469" y="18.5">15</text><text x="484" y="18.5">30</text><text x="498" y="18.5">60</text><text x="511" y="18.5">D</text><text x="525" y="18.5">W</text>
</g>
<rect x="570.5" y="403.5" width="367" height="317" fill="#fff" stroke="#6e6e6e"/>
<g clip-path="url(#cD)">
<path d="M572 441H760" stroke="#f0dcc0" stroke-width="1"/>
<path d="M572 476H640" stroke="#e0f4e0" stroke-width="1"/>
<text class="wm" x="653" y="478" textLength="202" lengthAdjust="spacingAndGlyphs">WKHS–5 Minute</text>
<path d="M572 429H903" stroke="#5cd25c" stroke-dasharray="7 3 2 3"/>
<path d="M572 433H903" stroke="#9be89b" stroke-dasharray="7 3 2 3"/>
<path d="M572 522H903" stroke="#a8eaa8" stroke-dasharray="7 3 2 3"/>
<path d="M572 585H903" stroke="#5cc05c" stroke-dasharray="7 3 2 3"/>
<path d="M572 577H903" stroke="#0000d0" stroke-width="2" stroke-dasharray="4 2"/>
<path d="M654.5 404V608" stroke="#3aa8a0" stroke-dasharray="6 3"/>
<polyline points="593,576 675,574 878,568" fill="none" stroke="#19e3ef" stroke-width="2"/>
<polyline points="593,522 675,520 878,510" fill="none" stroke="#a8f0f4"/>
<polyline points="593,512 634,510 715,498 797,495 878,490" fill="none" stroke="#a8a8a8"/>
<polyline points="593,508 634,505 675,495 715,485 756,483 837,481 878,479" fill="none" stroke="#a8a8a8"/>
<polyline points="593,502 633,502 675,490 715,479 756,477 797,477 878,476" fill="none" stroke="#1e80f0" stroke-width="2"/>
<path d="M572 459H903" stroke="#f08080" stroke-width="1.2"/>
<g stroke="#222">
<path d="M593 430V585M634 462V491M675 448V522M715 433V473M756 435V481M797 472V493M837 450V490M878 456V463"/>
<g fill="#fff">
<rect x="578.5" y="475" width="30" height="26"/><rect x="660.5" y="470" width="30" height="13"/><rect x="700.5" y="439" width="30" height="32"/><rect x="822.5" y="457" width="30" height="33"/>
</g>
<g fill="#f00">
<rect x="619.5" y="475" width="30" height="9"/><rect x="741.5" y="438" width="30" height="40"/><rect x="782.5" y="478" width="30" height="10"/>
</g>
<rect x="863.5" y="456" width="30" height="3" fill="#c00000" stroke="#600"/>
</g>
<polygon points="793,485 801,485 797,492" fill="#f00" stroke="#600" stroke-width=".6"/>
<polygon points="833,475 841,475 837,469" fill="#22cc22" stroke="#060" stroke-width=".6"/>
</g>
<text class="vbp" x="575" y="419" textLength="77" lengthAdjust="spacingAndGlyphs">Volume By Price ()</text>
<path d="M903.5 404V608M572 608.5H903" stroke="#444"/>
<path d="M613 608v3M654 608v3M695 608v3M736 608v3M776 608v3M817 608v3M857 608v3" stroke="#444"/>
<g class="ax">
<text x="906" y="411.5">19</text><text x="906" y="430.5">18.5</text><text x="906" y="449.5">18</text><text x="906" y="486.5">17</text><text x="906" y="505.5">16.5</text><text x="906" y="525.5">16</text><text x="906" y="543.5">15.5</text><text x="906" y="562.5">15</text><text x="906" y="581.5">14.5</text><text x="906" y="599.5">14</text>
</g>
<polygon points="903,459 909,454 931,454 931,464 909,464" fill="#000"/>
<text class="pb" x="909" y="462.2">17.67</text>
<rect x="572.5" y="614.5" width="18" height="12" fill="none" stroke="#5570e8" stroke-width=".8"/>
<text class="tm" x="582" y="624">6/30</text><text class="tm" x="613" y="624">09:25</text><text class="tm" x="654" y="624">09:30</text><text class="tm" x="695" y="624">09:35</text><text class="tm" x="736" y="624">09:40</text><text class="tm" x="776" y="624">09:45</text><text class="tm" x="817" y="624">09:50</text><text class="tm" x="857" y="624">09:55</text>
<path d="M571 630.5H938" stroke="#6e6e6e"/>
<path d="M654.5 631V702" stroke="#3aa8a0" stroke-dasharray="6 3"/>
<text class="vb" x="576" y="645">Volume (BAR)</text>
<g stroke="#555" stroke-width=".8">
<g fill="#fff">
<rect x="578.5" y="678" width="30" height="24"/><rect x="660.5" y="633" width="30" height="69"/><rect x="700.5" y="647" width="30" height="55"/><rect x="822.5" y="678" width="30" height="24"/>
</g>
<g fill="#f00" stroke="#a00">
<rect x="619.5" y="696" width="30" height="6"/><rect x="741.5" y="664" width="30" height="38"/><rect x="782.5" y="675" width="30" height="27"/>
</g>
<rect x="863.5" y="701" width="30" height="1" fill="#777"/>
</g>
<polyline points="593,698 653,697 698,685 742,679 798,676 878,674" fill="none" stroke="#9a9a9a"/>
<path d="M903.5 631V702M572 702.5H903" stroke="#444"/>
<g class="ax"><text x="906" y="636">7.6M</text><text x="906" y="653">5.7M</text><text x="906" y="670">3.8M</text><text x="906" y="688">1.9M</text></g>
<polygon points="903,701.5 909,696.5 937,696.5 937,706.5 909,706.5" fill="#000" stroke="#3344cc" stroke-width=".8"/>
<text class="pb" x="910" y="704.6">100.1K</text>
<g clip-path="url(#cDs)">
<text class="st" x="573" y="716" textLength="368" lengthAdjust="spacingAndGlyphs">6/30/2020 09:45  Hi: 17.3452  Lo: 16.75  O: 17.1529  C: 16.89  V: 2,990,057 %PRC: 16.40% A</text>
</g>
<rect x="571" y="722" width="367" height="10" fill="#f0f0f0"/>
<rect x="912" y="723" width="11" height="8" fill="#cdcdcd"/>
<path d="M578 724.5l-2.5 2.5 2.5 2.5M930 724.5l2.5 2.5-2.5 2.5" stroke="#666" fill="none"/>
</svg>
</body></html>
